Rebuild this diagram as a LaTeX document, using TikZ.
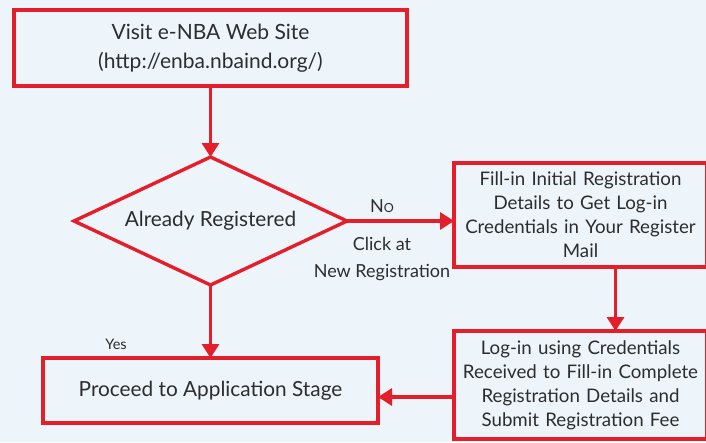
\documentclass[tikz,border=0pt]{standalone}
\usepackage{fontspec}
\setmainfont{Lato}
\usepackage{tikz}
\usetikzlibrary{positioning, shapes.geometric, arrows.meta}
\definecolor{flowred}{RGB}{228,30,43}
\definecolor{paleblue}{RGB}{237,244,250}
\definecolor{inkgray}{RGB}{45,45,45}

\begin{document}
\begin{tikzpicture}[font=\fontsize{18.7}{24}\selectfont, text=inkgray,
  stepbox/.style={rectangle, draw=flowred, line width=3.6pt, outer sep=0pt, inner sep=4pt, align=center},
  decide/.style={diamond, draw=flowred, line width=3.4pt, outer sep=0pt, inner sep=0pt, aspect=2.1, align=center},
  flow/.style={draw=flowred, line width=3.2pt, -{Triangle[length=14pt,width=17pt]}},
  note/.style={font=\fontsize{18}{27}\selectfont, align=center}]
%
\fill [paleblue] (0,0) rectangle (706pt,-442pt);
\useasboundingbox (0,0) rectangle (706pt,-442pt);

% VISIT WEB SITE
\node [stepbox, minimum width=393pt, minimum height=76pt, font=\fontsize{21}{29}\selectfont] (visit) at (210.5pt,-48pt) {Visit e-NBA Web Site \\ (http://enba.nbaind.org/)};
% ALREADY REGISTERED
\node [decide, minimum width=273pt, minimum height=128pt, font=\fontsize{20.8}{24}\selectfont, below=71pt of visit] (registered) {Already Registered};
% INITIAL REGISTRATION
\node [stepbox, minimum width=250pt, minimum height=104pt, text width=245pt, right=107pt of registered, yshift=6pt] (initial) {Fill-in Initial Registration \\ Details to Get Log-in \\ Credentials in Your Register \\ Mail};
% COMPLETE REGISTRATION
\node [stepbox, minimum width=251pt, minimum height=108pt, text width=245pt, below=64pt of initial] (complete) {Log-in using Credentials \\ Received to Fill-in Complete \\ Registration Details and \\ Submit Registration Fee};
% APPLICATION STAGE
\node [stepbox, minimum width=335pt, minimum height=65pt, font=\fontsize{20.8}{24}\selectfont, below=73pt of registered] (proceed) {Proceed to Application Stage};

% labels
\node [note] (no) at (382pt,-206pt) {N{\fontsize{12.5}{13}\selectfont O}};
\node [note] (click) at (382pt,-259pt) {Click at \\ New Registration};
\node [note, font=\fontsize{14.5}{15}\selectfont] (yes) at (116pt,-344pt) {Yes};



\draw [flow] (visit.south) -- (registered.north);
\draw [flow] (registered.east) -- (registered.east -| initial.west);
\draw [flow] ([xshift=35pt]initial.south) -- ([xshift=35pt]initial.south |- complete.north);
\draw [flow] ([yshift=-12pt]complete.west) -- ([yshift=-12pt]complete.west -| proceed.east);
\draw [flow] (registered.south) -- (proceed.north);
\end{tikzpicture}
\end{document}
